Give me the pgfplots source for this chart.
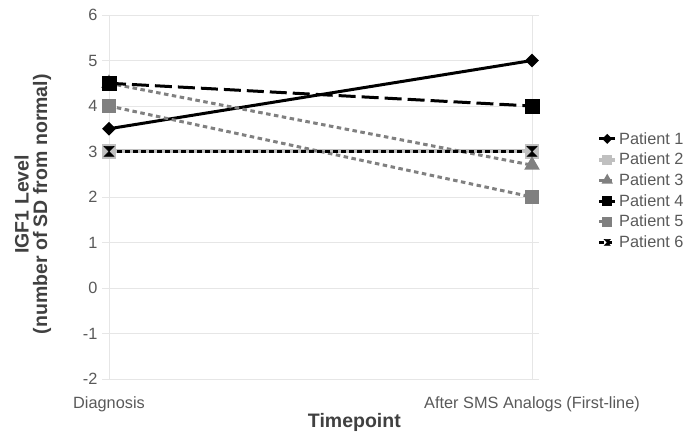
\documentclass[border=0pt]{standalone}
\usepackage{pgfplots}
\pgfplotsset{compat=1.18}
\usepackage{fontspec}
\setmainfont{Liberation Sans}

\definecolor{midgray}{HTML}{808080}
\definecolor{litegray}{HTML}{C0C0C0}
\definecolor{gridgray}{HTML}{E6E6E6}
\definecolor{ticktext}{HTML}{595959}
\definecolor{titletext}{HTML}{404040}

% Excel-style marker: bow tie standing on its tip
\pgfdeclareplotmark{hourglass}{%
  \pgfpathmoveto{\pgfqpoint{-\pgfplotmarksize}{\pgfplotmarksize}}%
  \pgfpathlineto{\pgfqpoint{\pgfplotmarksize}{\pgfplotmarksize}}%
  \pgfpathlineto{\pgfqpoint{-\pgfplotmarksize}{-\pgfplotmarksize}}%
  \pgfpathlineto{\pgfqpoint{\pgfplotmarksize}{-\pgfplotmarksize}}%
  \pgfpathclose
  \pgfusepathqfillstroke}

\begin{document}
\begin{tikzpicture}[x=1pt,y=1pt]
\useasboundingbox (0,0) rectangle (685,438);

\begin{axis}[
  at={(109pt,59pt)}, anchor=south west,
  scale only axis,
  width=423pt, height=364pt,
  xmin=0, xmax=1,
  ymin=-2, ymax=6,
  xtick={0,1},
  xticklabels={Diagnosis, After SMS Analogs (First-line)},
  ytick={-2,-1,0,1,2,3,4,5,6},
  yticklabels={-2,-1,0,1,2,3,4,5,6},
  grid=major,
  grid style={gridgray, line width=0.8pt},
  axis line style={gridgray, line width=0.8pt},
  tick align=outside,
  xtick style={draw=none},
  ytick style={gridgray, line width=0.8pt},
  major tick length=7pt,
  tick label style={text=ticktext, font=\fontsize{16.3}{18}\selectfont},
  xticklabel style={yshift=-7pt},
  yticklabel style={xshift=-1pt},
  xlabel={Timepoint},
  xlabel style={text=titletext, font=\fontsize{19.5}{21}\selectfont\bfseries,
    at={(axis description cs:0.58,-0.12)}, anchor=center},
  ylabel={IGF1 Level\\(number of SD from normal)},
  ylabel style={text=titletext, font=\fontsize{19.5}{18.5}\selectfont\bfseries,
    align=center, at={(axis description cs:-0.18,0.48)}, anchor=center},
  clip=false,
  legend cell align=left,
  legend style={
    at={(axis description cs:1.1537,0.684)}, anchor=north west,
    draw=none, fill=none, inner sep=0pt,
    font=\fontsize{16.3}{18}\selectfont, text=ticktext,
    row sep=3.4pt,
    /tikz/every even column/.append style={column sep=0pt},
  },
  legend image code/.code={%
    \draw[mark repeat=2, mark phase=2, #1, every mark/.append style={scale=0.6}]
      plot coordinates {(0pt,0pt) (8pt,0pt) (16pt,0pt)};},
]

% Patient 1
\addplot[black, line width=3pt, mark=square*, mark size=3.3pt,
  mark options={solid, rotate=45, fill=black}]
  coordinates {(0,3.5) (1,5)};
\addlegendentry{Patient 1}

% Patient 2
\addplot[litegray, line width=4pt, mark=square*, mark size=5pt,
  mark options={solid, fill=litegray}]
  coordinates {(0,3) (1,3)};
\addlegendentry{Patient 2}

% Patient 3
\addplot[midgray, line width=3pt, dash pattern=on 4.5pt off 3.5pt,
  mark=triangle*, mark size=6pt, mark options={solid, fill=midgray}]
  coordinates {(0,4.5) (1,2.7)};
\addlegendentry{Patient 3}

% Patient 4
\addplot[black, line width=3pt, dash pattern=on 17pt off 6pt,
  mark=square*, mark size=6pt, mark options={solid, fill=black}]
  coordinates {(0,4.5) (1,4)};
\addlegendentry{Patient 4}

% Patient 5
\addplot[midgray, line width=3pt, dash pattern=on 4.5pt off 3.5pt,
  mark=square*, mark size=5.5pt, mark options={solid, fill=midgray}]
  coordinates {(0,4) (1,2)};
\addlegendentry{Patient 5}

% Patient 6
\addplot[black, line width=3pt, dash pattern=on 4.5pt off 3.5pt,
  mark=hourglass, mark size=5pt, mark options={solid, fill=black, line width=0.5pt}]
  coordinates {(0,3) (1,3)};
\addlegendentry{Patient 6}

\end{axis}
\end{tikzpicture}
\end{document}
